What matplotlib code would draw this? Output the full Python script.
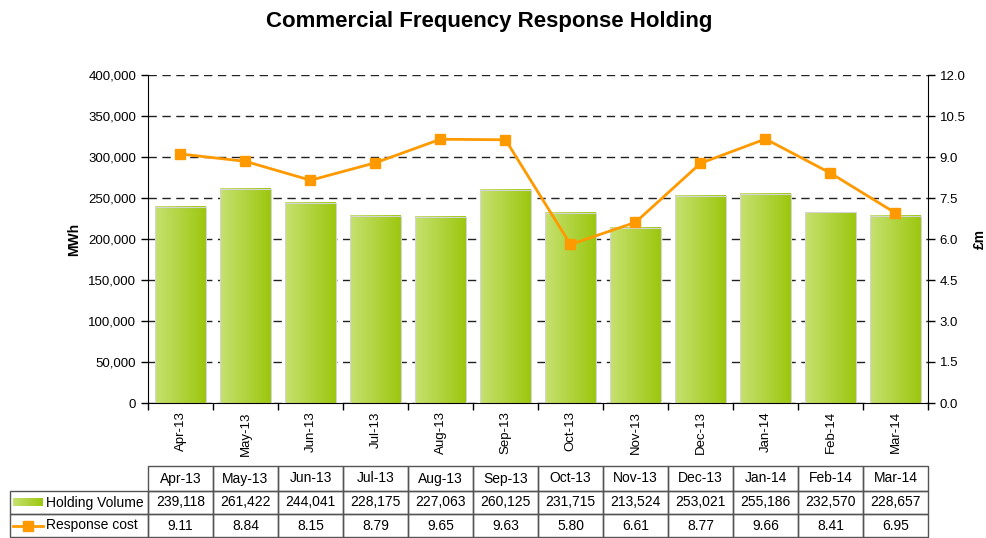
import numpy as np
import matplotlib
matplotlib.use("Agg")
import matplotlib.pyplot as plt
from matplotlib.colors import LinearSegmentedColormap
from matplotlib.patches import Rectangle
from matplotlib.lines import Line2D
from matplotlib.ticker import FuncFormatter, MultipleLocator

plt.rcParams['font.family'] = ['Liberation Sans', 'DejaVu Sans']

# data
months = ['Apr-13', 'May-13', 'Jun-13', 'Jul-13', 'Aug-13', 'Sep-13',
          'Oct-13', 'Nov-13', 'Dec-13', 'Jan-14', 'Feb-14', 'Mar-14']
holding_volume = [239118, 261422, 244041, 228175, 227063, 260125,
                  231715, 213524, 253021, 255186, 232570, 228657]
response_cost = [9.11, 8.84, 8.15, 8.79, 9.65, 9.63,
                 5.80, 6.61, 8.77, 9.66, 8.41, 6.95]

W, H = 987, 538
fig = plt.figure(figsize=(W / 100, H / 100), dpi=100)
ax_l, ax_r, ax_t, ax_b = 148, 928, 75, 403
aw, ah = ax_r - ax_l, ax_b - ax_t
ax = fig.add_axes([ax_l / W, 1 - ax_b / H, aw / W, ah / H])

x = np.arange(len(months))
green = LinearSegmentedColormap.from_list('g', ['#c6e170', '#9cc70f'])
grad = np.linspace(0, 1, 64).reshape(1, -1)

bars = ax.bar(x, holding_volume, width=0.78, facecolor='none',
              edgecolor='#d4d4d4', linewidth=0.8, zorder=3)
for b in bars:
    x0, w, h = b.get_x(), b.get_width(), b.get_height()
    ax.imshow(grad, extent=[x0, x0 + w, 0, h], aspect='auto', cmap=green,
              zorder=2, interpolation='bilinear')

ax.set_xlim(-0.5, len(months) - 0.5)
ax.set_ylim(0, 400000)
ax.yaxis.set_major_locator(MultipleLocator(50000))
ax.yaxis.set_major_formatter(FuncFormatter(lambda v, p: f'{v:,.0f}'))
ax.set_xticks(x)
ax.set_xticklabels(months, rotation=90, fontsize=9.5)
ax.set_xticks(np.arange(-0.5, len(months)), minor=True)
ax.tick_params(axis='x', which='major', length=0, pad=6)
ax.tick_params(axis='x', which='minor', length=5, width=1, direction='out')
ax.tick_params(axis='y', length=5, width=1, labelsize=9.5, direction='out')
ax.yaxis.grid(True, linestyle=(0, (6, 4)), color='#222222', linewidth=1)
ax.set_axisbelow(True)
ax.spines['top'].set_visible(False)
ax.spines['right'].set_visible(False)
ax.set_ylabel('MWh', fontsize=10, fontweight='bold', labelpad=5)

ax2 = ax.twinx()
ax2.plot(x, response_cost, color='#ff9900', linewidth=2, marker='s',
         markersize=6.5, zorder=4)
ax2.set_ylim(0, 12)
ax2.yaxis.set_major_locator(MultipleLocator(1.5))
ax2.yaxis.set_major_formatter(FuncFormatter(lambda v, p: f'{v:.1f}'))
ax2.tick_params(axis='y', length=5, width=1, labelsize=9.5, direction='out')
for s in ['top', 'left', 'bottom']:
    ax2.spines[s].set_visible(False)
ax2.set_ylabel('£m', fontsize=10, fontweight='bold', labelpad=5)

fig.text(489 / W, 1 - 22 / H, 'Commercial Frequency Response Holding',
         ha='center', va='center', fontsize=16, fontweight='bold')


# data table under the chart, drawn in axes coordinates
def to_ax(px, py):
    return (px - ax_l) / aw, (ax_b - py) / ah


row_edges = [466, 491, 514, 537]
lab_l = 10
vol_txt = [f'{v:,}' for v in holding_volume]
cost_txt = [f'{v:.2f}' for v in response_cost]
rows = [months, vol_txt, cost_txt]
ncol = len(months)
for r, texts in enumerate(rows):
    _, yt = to_ax(0, row_edges[r])
    _, yb = to_ax(0, row_edges[r + 1])
    for j, t in enumerate(texts):
        ax.add_patch(Rectangle((j / ncol, yb), 1 / ncol, yt - yb,
                               transform=ax.transAxes, fill=False,
                               edgecolor='#555555', linewidth=1, clip_on=False))
        ax.text((j + 0.5) / ncol, (yt + yb) / 2, t, transform=ax.transAxes,
                ha='center', va='center', fontsize=10, clip_on=False)
    if r > 0:
        xl, _ = to_ax(lab_l, 0)
        ax.add_patch(Rectangle((xl, yb), -xl, yt - yb, transform=ax.transAxes,
                               fill=False, edgecolor='#555555', linewidth=1,
                               clip_on=False))

series_names = ['Holding Volume', 'Response cost']
for r, label in enumerate(series_names, start=1):
    _, ty = to_ax(0, (row_edges[r] + row_edges[r + 1]) / 2)
    tx, _ = to_ax(46, 0)
    ax.text(tx, ty, label, transform=ax.transAxes, ha='left', va='center',
            fontsize=10, clip_on=False)

sx0, sy0 = to_ax(13, 506)
sx1, sy1 = to_ax(42, 499)
ax.imshow(grad, extent=[sx0, sx1, sy0, sy1], transform=ax.transAxes,
          aspect='auto', cmap=green, clip_on=False, zorder=5)
lx0, ly = to_ax(13, 526)
lx1, _ = to_ax(43, 526)
ax.add_line(Line2D([lx0, lx1], [ly, ly], transform=ax.transAxes,
                   color='#ff9900', linewidth=2, clip_on=False))
ax.add_line(Line2D([(lx0 + lx1) / 2], [ly], transform=ax.transAxes,
                   color='#ff9900', marker='s', markersize=6.5, clip_on=False))

ax.set_xlim(-0.5, len(months) - 0.5)
ax.set_ylim(0, 400000)

fig.savefig('out.png', dpi=100)
